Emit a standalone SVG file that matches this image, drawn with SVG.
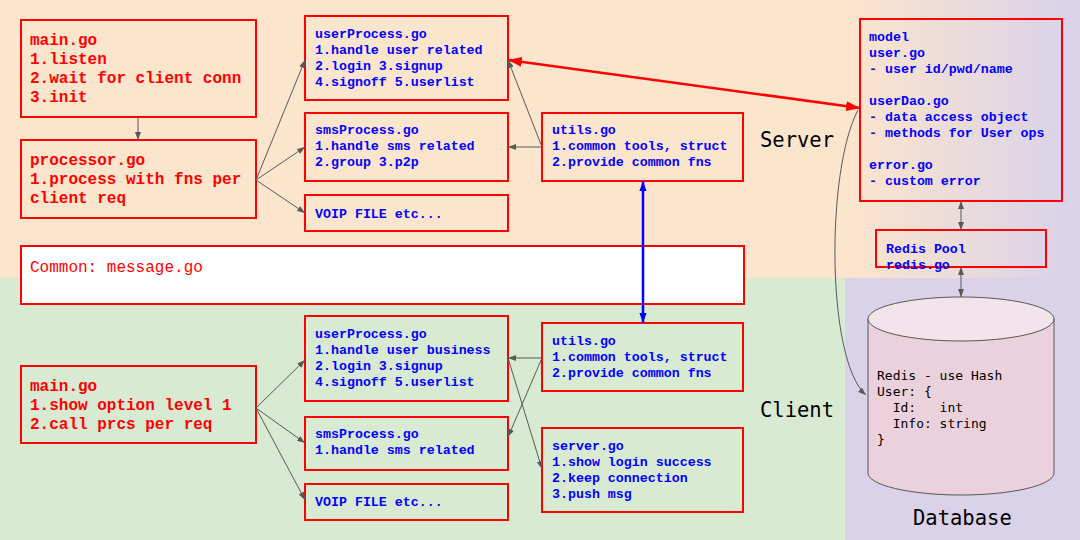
<svg xmlns="http://www.w3.org/2000/svg" width="1080" height="540" viewBox="0 0 1080 540">
<defs>
<linearGradient id="topg" gradientUnits="userSpaceOnUse" x1="850" y1="0" x2="1070" y2="0">
<stop offset="0" stop-color="#fce5cd"/><stop offset="1" stop-color="#d9d2e9"/>
</linearGradient>
<marker id="ag" markerWidth="8" markerHeight="6" refX="8" refY="3" orient="auto-start-reverse" markerUnits="userSpaceOnUse"><path d="M0,0 L8,3 L0,6 Z" fill="#595959"/></marker>
<marker id="ar" markerWidth="14" markerHeight="10" refX="14" refY="5" orient="auto-start-reverse" markerUnits="userSpaceOnUse"><path d="M0,0 L14,5 L0,10 Z" fill="#ff0000"/></marker>
<marker id="ab" markerWidth="10" markerHeight="14" refX="14" refY="5" orient="auto-start-reverse" markerUnits="userSpaceOnUse" viewBox="0 0 14 10"><path d="M0,0 L14,5 L0,10 Z" fill="#0000ff"/></marker>
</defs>
<style>
.box{fill:none;stroke:#ff0000;stroke-width:2}
.rt{font-family:"Liberation Mono",monospace;font-weight:bold;font-size:16px;fill:#ff0000}
.bt{font-family:"Liberation Mono",monospace;font-weight:bold;font-size:13.3px;fill:#0000ff}
.lbl{font-family:"DejaVu Sans Mono",monospace;font-size:20.5px;fill:#000}
.db{font-family:"DejaVu Sans Mono",monospace;font-size:13px;fill:#000}
.g{stroke:#595959;stroke-width:1;fill:none;marker-end:url(#ag)}
.gg{stroke:#595959;stroke-width:1;fill:none;marker-end:url(#ag);marker-start:url(#ag)}
</style>
<rect x="0" y="0" width="1080" height="278" fill="url(#topg)"/>
<rect x="0" y="278" width="845" height="262" fill="#d9ead3"/>
<rect x="845" y="278" width="235" height="262" fill="#d9d2e9"/>

<text class="lbl" x="760" y="147">Server</text>
<text class="lbl" x="760" y="417">Client</text>
<text class="lbl" x="913" y="525">Database</text>

<g id="s-main"><rect class="box" x="21" y="20" width="235" height="97"/>
<text class="rt"><tspan x="30" y="45">main.go</tspan><tspan x="30" y="64">1.listen</tspan><tspan x="30" y="83">2.wait for client conn</tspan><tspan x="30" y="102">3.init</tspan></text></g>
<g id="s-processor"><rect class="box" x="21" y="140" width="235" height="78"/>
<text class="rt"><tspan x="30" y="165">processor.go</tspan><tspan x="30" y="184">1.process with fns per</tspan><tspan x="30" y="203">client req</tspan></text></g>
<g id="s-user"><rect class="box" x="305" y="16" width="203" height="84"/>
<text class="bt"><tspan x="315" y="38">userProcess.go</tspan><tspan x="315" y="54">1.handle user related</tspan><tspan x="315" y="70">2.login 3.signup</tspan><tspan x="315" y="86">4.signoff 5.userlist</tspan></text></g>
<g id="s-sms"><rect class="box" x="305" y="113" width="203" height="68"/>
<text class="bt"><tspan x="315" y="134">smsProcess.go</tspan><tspan x="315" y="150">1.handle sms related</tspan><tspan x="315" y="166">2.group 3.p2p</tspan></text></g>
<g id="s-voip"><rect class="box" x="305" y="195" width="203" height="36"/>
<text class="bt" x="315" y="218">VOIP FILE etc...</text></g>
<g id="s-utils"><rect class="box" x="542" y="113" width="201" height="68"/>
<text class="bt"><tspan x="552" y="134">utils.go</tspan><tspan x="552" y="150">1.common tools, struct</tspan><tspan x="552" y="166">2.provide common fns</tspan></text></g>
<g id="model"><rect class="box" x="860" y="19" width="202" height="182"/>
<text class="bt"><tspan x="869" y="41">model</tspan><tspan x="869" y="57">user.go</tspan><tspan x="869" y="73">- user id/pwd/name</tspan><tspan x="869" y="105">userDao.go</tspan><tspan x="869" y="121">- data access object</tspan><tspan x="869" y="137">- methods for User ops</tspan><tspan x="869" y="169">error.go</tspan><tspan x="869" y="185">- custom error</tspan></text></g>
<g id="redis-pool"><rect class="box" x="876" y="230" width="170" height="37"/>
<text class="bt"><tspan x="886" y="253">Redis Pool</tspan><tspan x="886" y="269">redis.go</tspan></text></g>

<g id="common"><rect x="21" y="246" width="723" height="58" fill="#ffffff" stroke="#ff0000" stroke-width="2"/>
<text x="30" y="272" style="font-family:'Liberation Mono',monospace;font-size:16px;fill:#ff0000">Common: message.go</text></g>

<g id="c-main"><rect class="box" x="21" y="366" width="235" height="77"/>
<text class="rt"><tspan x="30" y="391">main.go</tspan><tspan x="30" y="410">1.show option level 1</tspan><tspan x="30" y="429">2.call prcs per req</tspan></text></g>
<g id="c-user"><rect class="box" x="305" y="316" width="203" height="85"/>
<text class="bt"><tspan x="315" y="338">userProcess.go</tspan><tspan x="315" y="354">1.handle user business</tspan><tspan x="315" y="370">2.login 3.signup</tspan><tspan x="315" y="386">4.signoff 5.userlist</tspan></text></g>
<g id="c-sms"><rect class="box" x="305" y="417" width="203" height="53"/>
<text class="bt"><tspan x="315" y="438">smsProcess.go</tspan><tspan x="315" y="454">1.handle sms related</tspan></text></g>
<g id="c-voip"><rect class="box" x="305" y="484" width="203" height="36"/>
<text class="bt" x="315" y="506">VOIP FILE etc...</text></g>
<g id="c-utils"><rect class="box" x="542" y="323" width="201" height="68"/>
<text class="bt"><tspan x="552" y="345">utils.go</tspan><tspan x="552" y="361">1.common tools, struct</tspan><tspan x="552" y="377">2.provide common fns</tspan></text></g>
<g id="c-server"><rect class="box" x="542" y="428" width="201" height="84"/>
<text class="bt"><tspan x="552" y="450">server.go</tspan><tspan x="552" y="466">1.show login success</tspan><tspan x="552" y="482">2.keep connection</tspan><tspan x="552" y="498">3.push msg</tspan></text></g>

<g id="redis-db">
<path d="M868,319 L868,473 A93,22 0 0 0 1054,473 L1054,319 Z" fill="#ead1dc" stroke="#595959" stroke-width="1"/>
<ellipse cx="961" cy="319" rx="93" ry="22" fill="#f2e4ea" stroke="#595959" stroke-width="1"/>
<text class="db" xml:space="preserve"><tspan x="877" y="380">Redis - use Hash</tspan><tspan x="877" y="396">User: {</tspan><tspan x="877" y="412">  Id:   int</tspan><tspan x="877" y="428">  Info: string</tspan><tspan x="877" y="444">}</tspan></text>
</g>

<g id="connectors">
<line class="g" x1="138" y1="117" x2="138" y2="140"/>
<line class="g" x1="256" y1="180" x2="305" y2="60"/>
<line class="g" x1="256" y1="180" x2="305" y2="147"/>
<line class="g" x1="256" y1="180" x2="305" y2="213"/>
<line class="g" x1="542" y1="147" x2="508" y2="147"/>
<line class="g" x1="542" y1="147" x2="508" y2="60"/>
<line x1="508" y1="60" x2="860" y2="108" stroke="#ff0000" stroke-width="2.5" marker-start="url(#ar)" marker-end="url(#ar)"/>
<line x1="643" y1="181" x2="643" y2="323" stroke="#0000ff" stroke-width="2.5" marker-start="url(#ab)" marker-end="url(#ab)"/>
<line class="gg" x1="961" y1="201" x2="961" y2="230"/>
<line class="gg" x1="961" y1="267" x2="961" y2="297"/>
<path class="g" d="M858,110 C826,170 826,360 866,395"/>
<line class="g" x1="256" y1="408" x2="305" y2="360"/>
<line class="g" x1="256" y1="408" x2="305" y2="443"/>
<line class="g" x1="256" y1="408" x2="305" y2="500"/>
<line class="g" x1="542" y1="358" x2="508" y2="358"/>
<line class="g" x1="542" y1="358" x2="508" y2="437"/>
<line class="g" x1="508" y1="358" x2="542" y2="469"/>
</g>
</svg>
